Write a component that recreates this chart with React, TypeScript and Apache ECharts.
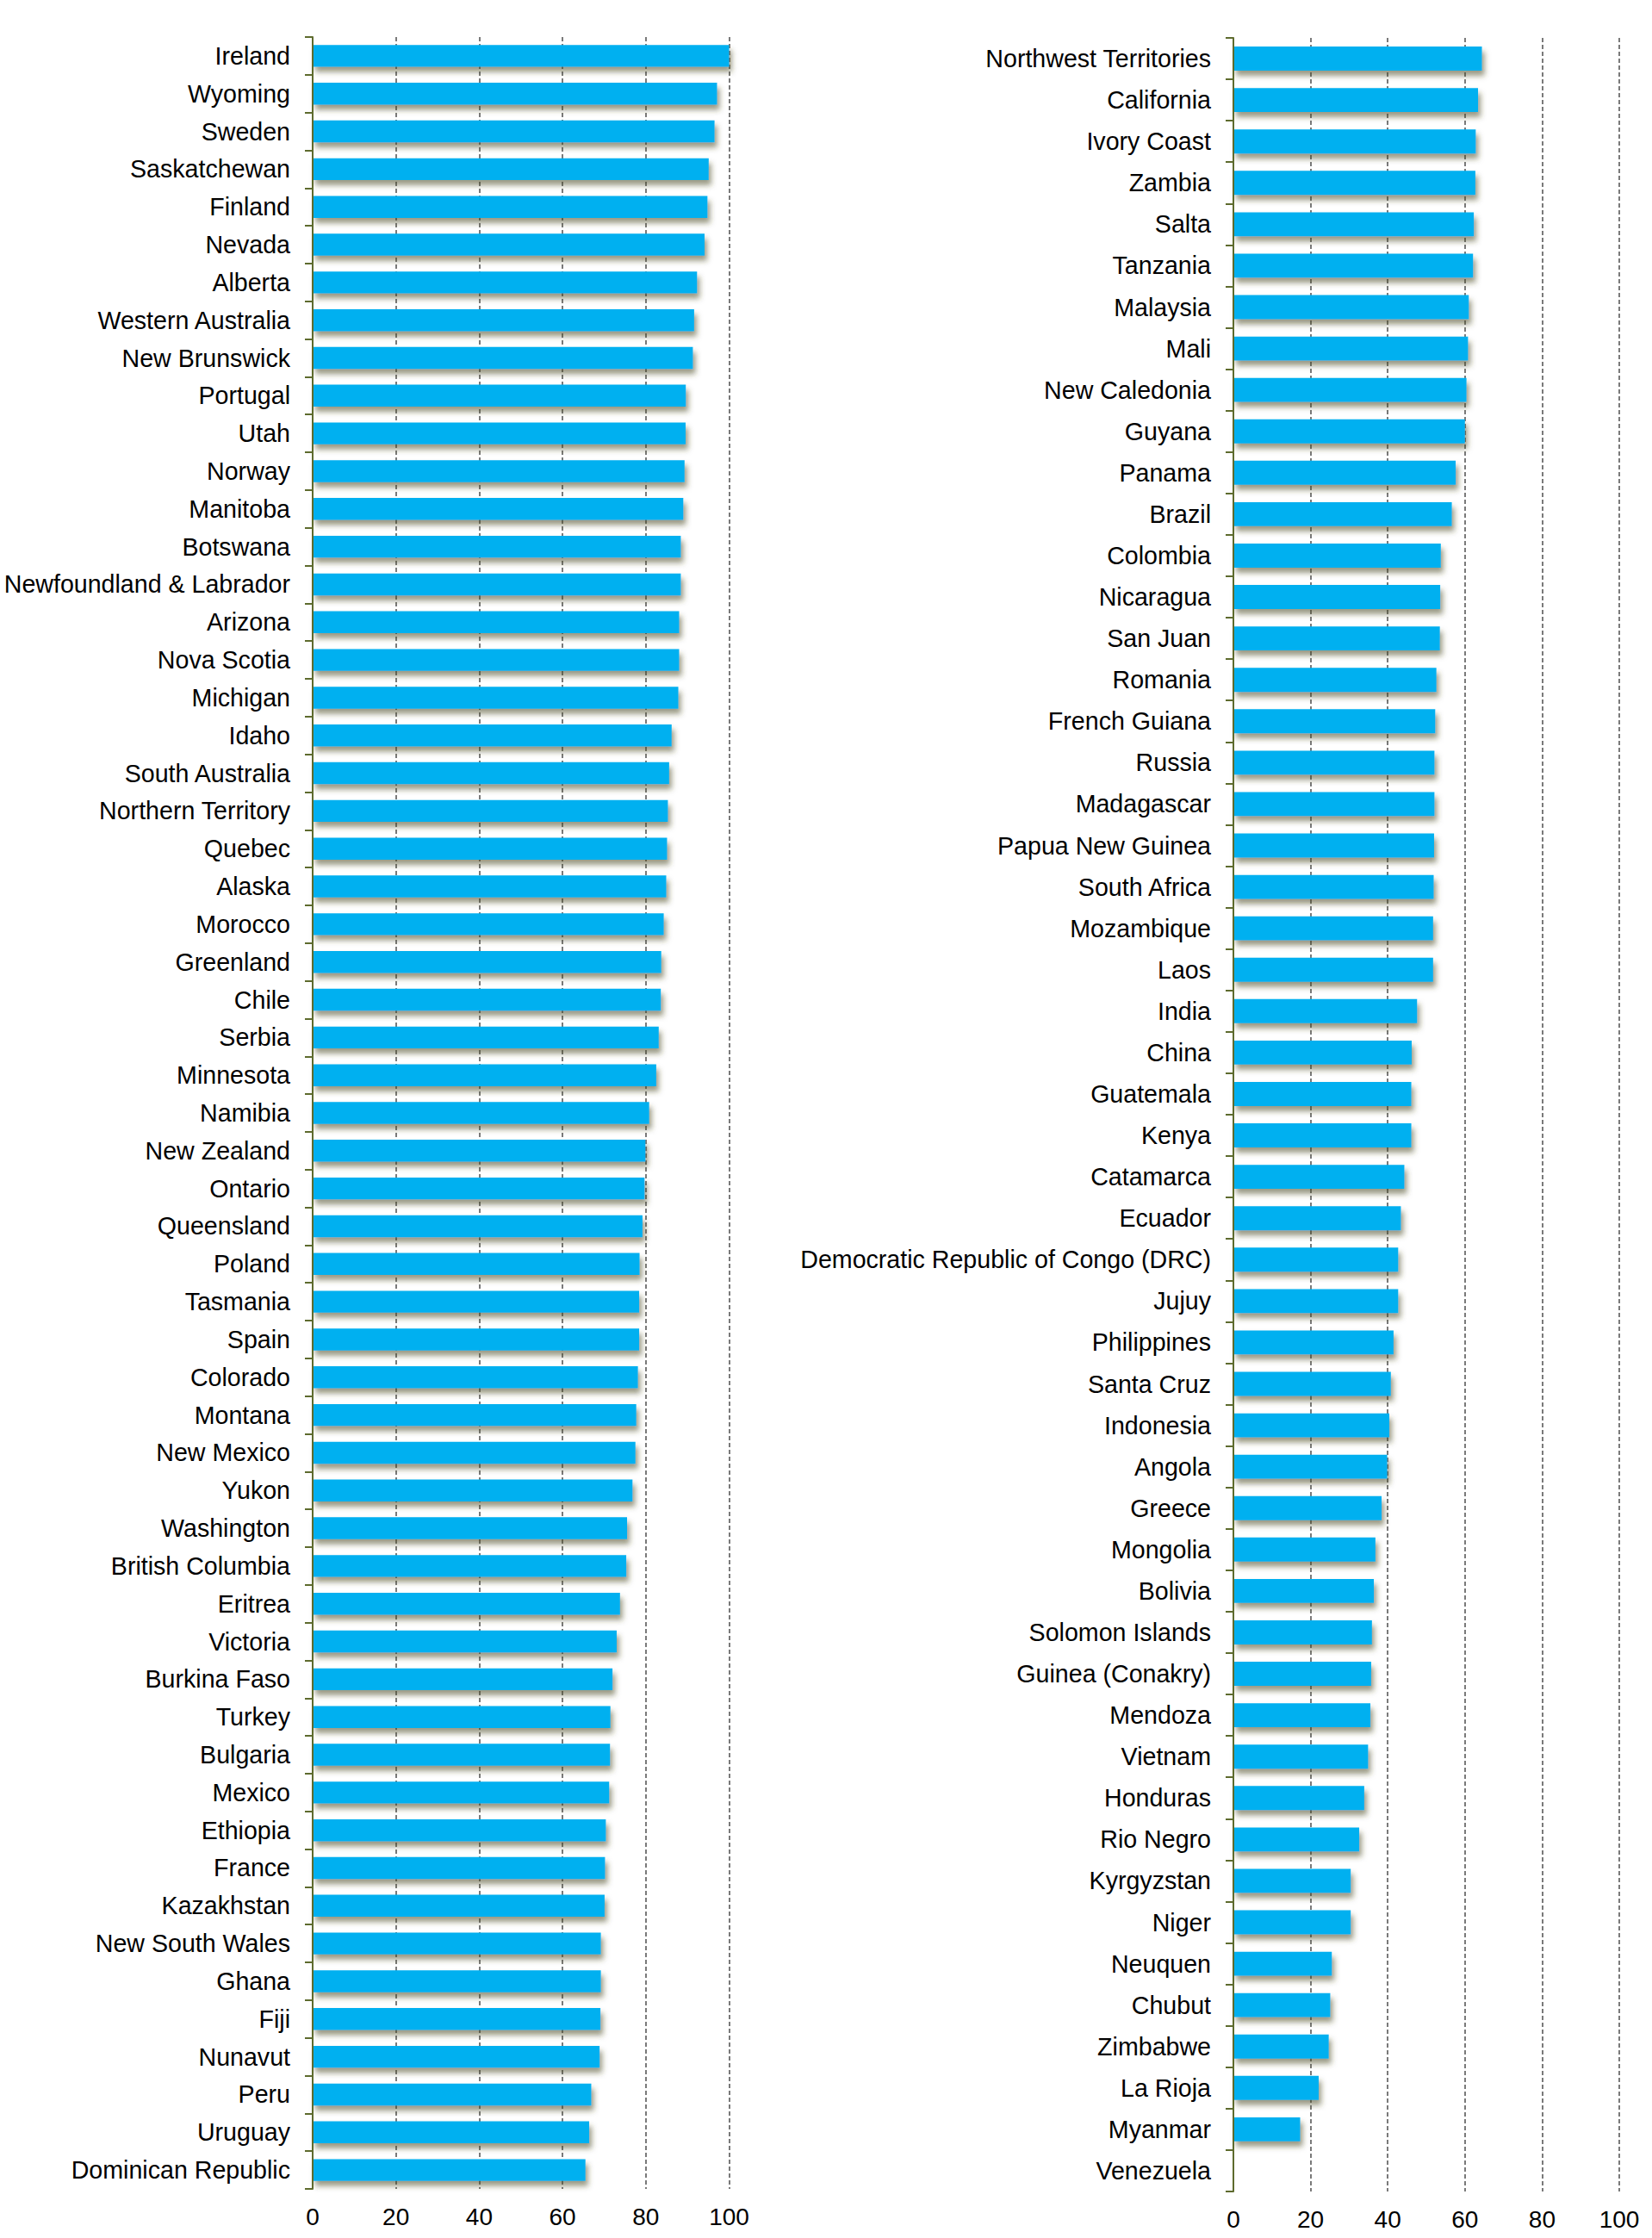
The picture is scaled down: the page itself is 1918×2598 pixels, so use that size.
import React, { useEffect, useRef } from "react";
import * as echarts from "echarts";

const leftCategories = [
  "Ireland", "Wyoming", "Sweden", "Saskatchewan", "Finland", "Nevada", "Alberta",
  "Western Australia", "New Brunswick", "Portugal", "Utah", "Norway", "Manitoba",
  "Botswana", "Newfoundland & Labrador", "Arizona", "Nova Scotia", "Michigan", "Idaho",
  "South Australia", "Northern Territory", "Quebec", "Alaska", "Morocco", "Greenland",
  "Chile", "Serbia", "Minnesota", "Namibia", "New Zealand", "Ontario", "Queensland",
  "Poland", "Tasmania", "Spain", "Colorado", "Montana", "New Mexico", "Yukon",
  "Washington", "British Columbia", "Eritrea", "Victoria", "Burkina Faso", "Turkey",
  "Bulgaria", "Mexico", "Ethiopia", "France", "Kazakhstan", "New South Wales", "Ghana",
  "Fiji", "Nunavut", "Peru", "Uruguay", "Dominican Republic",
];

const leftValues = [
  100, 97.1, 96.5, 95.1, 94.8, 94.1, 92.3, 91.6, 91.3, 89.6, 89.55, 89.3, 89.0,
  88.4, 88.4, 88.0, 88.0, 87.8, 86.2, 85.6, 85.3, 85.1, 84.9, 84.3, 83.7, 83.6,
  83.1, 82.5, 80.8, 79.9, 79.7, 79.2, 78.5, 78.4, 78.4, 78.1, 77.7, 77.5, 76.8,
  75.5, 75.3, 73.8, 73.0, 72.0, 71.5, 71.4, 71.2, 70.4, 70.2, 70.1, 69.2, 69.2,
  69.1, 68.9, 66.9, 66.4, 65.5,
];

const rightCategories = [
  "Northwest Territories", "California", "Ivory Coast", "Zambia", "Salta", "Tanzania",
  "Malaysia", "Mali", "New Caledonia", "Guyana", "Panama", "Brazil", "Colombia",
  "Nicaragua", "San Juan", "Romania", "French Guiana", "Russia", "Madagascar",
  "Papua New Guinea", "South Africa", "Mozambique", "Laos", "India", "China",
  "Guatemala", "Kenya", "Catamarca", "Ecuador", "Democratic Republic of Congo (DRC)",
  "Jujuy", "Philippines", "Santa Cruz", "Indonesia", "Angola", "Greece", "Mongolia",
  "Bolivia", "Solomon Islands", "Guinea (Conakry)", "Mendoza", "Vietnam", "Honduras",
  "Rio Negro", "Kyrgyzstan", "Niger", "Neuquen", "Chubut", "Zimbabwe", "La Rioja",
  "Myanmar", "Venezuela",
];

const rightValues = [
  64.4, 63.4, 62.8, 62.7, 62.3, 62.1, 61.0, 60.8, 60.4, 60.0, 57.6, 56.6, 53.75,
  53.6, 53.5, 52.6, 52.3, 52.1, 52.1, 52.0, 51.9, 51.75, 51.75, 47.6, 46.2, 46.1,
  46.1, 44.3, 43.4, 42.7, 42.7, 41.5, 40.8, 40.4, 39.85, 38.4, 36.8, 36.4, 35.9,
  35.7, 35.5, 34.9, 33.9, 32.6, 30.4, 30.4, 25.5, 25.1, 24.7, 22.1, 17.3, 0,
];

const valueTicks = [0, 20, 40, 60, 80, 100];

const FONT = "'Liberation Sans', Arial, sans-serif";
const AXIS_COLOR = "#5E6B2E";
const BAR_COLOR = "#00B0F0";

function valueAxis(gridIndex: number) {
  return {
    type: "value",
    gridIndex,
    min: valueTicks[0],
    max: valueTicks[valueTicks.length - 1],
    interval: valueTicks[1] - valueTicks[0],
    axisLine: { show: false },
    axisTick: { show: false },
    axisLabel: {
      fontSize: 28,
      color: "#000",
      fontFamily: FONT,
      margin: 18,
    },
    splitLine: {
      show: true,
      lineStyle: { color: "#7a7a7a", width: 2, type: [5, 3] },
    },
  };
}

function categoryAxis(gridIndex: number, data: string[]) {
  return {
    type: "category",
    gridIndex,
    inverse: true,
    data,
    boundaryGap: true,
    axisLine: { show: true, lineStyle: { color: AXIS_COLOR, width: 2 } },
    axisTick: {
      show: true,
      inside: false,
      length: 9,
      alignWithLabel: false,
      lineStyle: { color: AXIS_COLOR, width: 2 },
    },
    axisLabel: {
      fontSize: 28.6,
      color: "#000",
      fontFamily: FONT,
      margin: 26,
      interval: 0,
    },
    splitLine: { show: false },
    z: 5,
  };
}

function barSeries(index: number, values: number[]) {
  return {
    type: "bar",
    xAxisIndex: index,
    yAxisIndex: index,
    data: values,
    barCategoryGap: "42%",
    itemStyle: {
      color: BAR_COLOR,
      shadowColor: "rgba(70,70,30,0.55)",
      shadowBlur: 6,
      shadowOffsetX: 3,
      shadowOffsetY: 6,
    },
    emphasis: { disabled: true },
    z: 2,
  };
}

export default function App() {
  const ref = useRef<HTMLDivElement>(null);

  useEffect(() => {
    if (!ref.current) return;
    const chart = echarts.init(ref.current, undefined, { renderer: "svg" });
    chart.setOption({
      animation: false,
      backgroundColor: "#ffffff",
      grid: [
        { left: 363, top: 43, width: 483.5, height: 2498, containLabel: false },
        { left: 1432, top: 44, width: 448, height: 2500, containLabel: false },
      ],
      xAxis: [valueAxis(0), valueAxis(1)],
      yAxis: [categoryAxis(0, leftCategories), categoryAxis(1, rightCategories)],
      series: [barSeries(0, leftValues), barSeries(1, rightValues)],
    });
    return () => {
      chart.dispose();
    };
  }, []);

  return (
    <div
      ref={ref}
      style={{ position: "absolute", left: 0, top: 0, width: 1918, height: 2598 }}
    />
  );
}
